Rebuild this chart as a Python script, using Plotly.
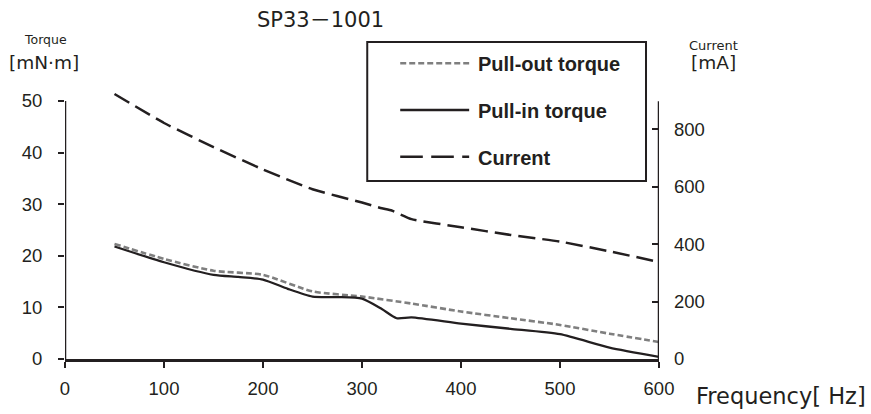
import plotly.graph_objects as go

# ---------------- data ----------------
freq_out = [50, 100, 150, 200, 250, 300, 350, 400, 450, 500, 550, 600]
pull_out = [22.3, 19.4, 17.1, 16.3, 13.1, 12.1, 10.75, 9.2, 7.9, 6.6, 4.9, 3.3]

freq_in = [50, 100, 150, 175, 200, 225, 250, 275, 300, 320, 335, 350, 400, 450, 500, 550, 600]
pull_in = [21.8, 18.75, 16.3, 15.9, 15.4, 13.6, 12.1, 12.0, 11.7, 9.7, 7.9, 8.05, 6.85, 5.85, 4.8, 2.2, 0.4]

freq_cur = [50, 100, 150, 200, 250, 300, 320, 330, 350, 400, 450, 500, 550, 600]
current = [923, 822, 738, 660, 591, 545, 525, 517, 487, 459, 432, 409, 375, 338]

x_ticks = [0, 100, 200, 300, 400, 500, 600]
torque_ticks = [0, 10, 20, 30, 40, 50]
current_ticks = [0, 200, 400, 600, 800]

title_text = "SP33－1001"
legend_names = ["Pull-out torque", "Pull-in torque", "Current"]

# ---------------- layout constants ----------------
W, H = 871, 414
L, R, T, B = 64.5, 212, 80, 55
PW, PH = W - L - R, H - T - B
BLACK = "#231f20"
GRAY = "#7f7f7f"
TICK_FONT = dict(family="Liberation Sans, Arial, sans-serif", size=18.5, color=BLACK)
WIDE = "DejaVu Sans, Noto Sans CJK JP, sans-serif"


def px(xp):
    return (xp - L) / PW


def py(yp):
    return (H - B - yp) / PH


fig = go.Figure()
fig.add_trace(go.Scatter(x=freq_cur, y=current, yaxis="y2", mode="lines",
                         line=dict(color=BLACK, width=2.5, dash="17px,7px",
                                   shape="spline", smoothing=0.4),
                         name=legend_names[2], showlegend=False))
fig.add_trace(go.Scatter(x=freq_out, y=pull_out, mode="lines",
                         line=dict(color=GRAY, width=2.6, dash="6px,3px",
                                   shape="spline", smoothing=0.6),
                         name=legend_names[0], showlegend=False))
fig.add_trace(go.Scatter(x=freq_in, y=pull_in, mode="lines",
                         line=dict(color=BLACK, width=2.3,
                                   shape="spline", smoothing=0.6),
                         name=legend_names[1], showlegend=False))

# axis lines drawn explicitly so they end at the top tick
shapes = [
    dict(type="line", xref="x", yref="y", x0=0, x1=0, y0=0, y1=50,
         line=dict(color=BLACK, width=2.5)),
    dict(type="line", xref="x", yref="y2", x0=600, x1=600, y0=0, y1=898,
         line=dict(color=BLACK, width=2.5)),
]

# custom legend box
shapes.append(dict(type="rect", xref="paper", yref="paper",
                   x0=px(367), x1=px(646), y0=py(181), y1=py(42),
                   line=dict(color=BLACK, width=2), fillcolor="white", layer="above"))
leg_y = [63.3, 110, 156.7]
leg_style = [dict(color=GRAY, width=2.5, dash="6px,3px"),
             dict(color=BLACK, width=2.5),
             dict(color=BLACK, width=2.5, dash="22.6px,8.4px")]
for yy, st in zip(leg_y, leg_style):
    shapes.append(dict(type="line", xref="paper", yref="paper",
                       x0=px(400), x1=px(469), y0=py(yy), y1=py(yy), line=st, layer="above"))

annotations = []
for yy, name in zip(leg_y, legend_names):
    annotations.append(dict(text=name, xref="paper", yref="paper", x=px(476), y=py(yy + 1),
                            xanchor="left", yanchor="middle", showarrow=False,
                            font=dict(family="Liberation Sans, Arial, sans-serif", size=20,
                                      color=BLACK, weight="bold")))


def ann(text, xp, yp, size, xanchor="center"):
    annotations.append(dict(text=text, xref="paper", yref="paper", x=px(xp), y=py(yp),
                            xanchor=xanchor, yanchor="middle", showarrow=False,
                            font=dict(family=WIDE, size=size, color=BLACK)))


ann(title_text, 320, 20, 21)
ann("Torque", 44.5, 39.5, 12.5)
ann("[mN·m]", 43, 62.5, 18.5)
ann("Current", 714, 45, 13)
ann("[mA]", 714, 63, 18.5)
ann("Frequency[ Hz]", 694, 396, 22.5, xanchor="left")

fig.update_layout(
    width=W, height=H,
    margin=dict(l=L, r=R, t=T, b=B, pad=0),
    paper_bgcolor="white", plot_bgcolor="white",
    showlegend=False,
    xaxis=dict(range=[0, 600], tickvals=x_ticks, ticks="outside", ticklen=6, tickwidth=2,
               tickcolor=BLACK, showline=True, linecolor=BLACK, linewidth=2.5,
               showgrid=False, zeroline=False, tickfont=TICK_FONT, ticklabelstandoff=5),
    yaxis=dict(range=[0, 54.07], tickvals=torque_ticks, ticks="outside", ticklen=6, tickwidth=2,
               tickcolor=BLACK, showline=False, showgrid=False, zeroline=False,
               tickfont=TICK_FONT, ticklabelstandoff=12),
    yaxis2=dict(range=[0, 971.7], tickvals=current_ticks, overlaying="y", side="right",
                ticks="inside", ticklen=7, tickwidth=2, tickcolor=BLACK, showline=False,
                showgrid=False, zeroline=False, tickfont=TICK_FONT, ticklabelstandoff=14),
    shapes=shapes,
    annotations=annotations,
)

fig.write_html("out.html", config={"displayModeBar": False},
               post_script="document.body.style.margin='0';")
